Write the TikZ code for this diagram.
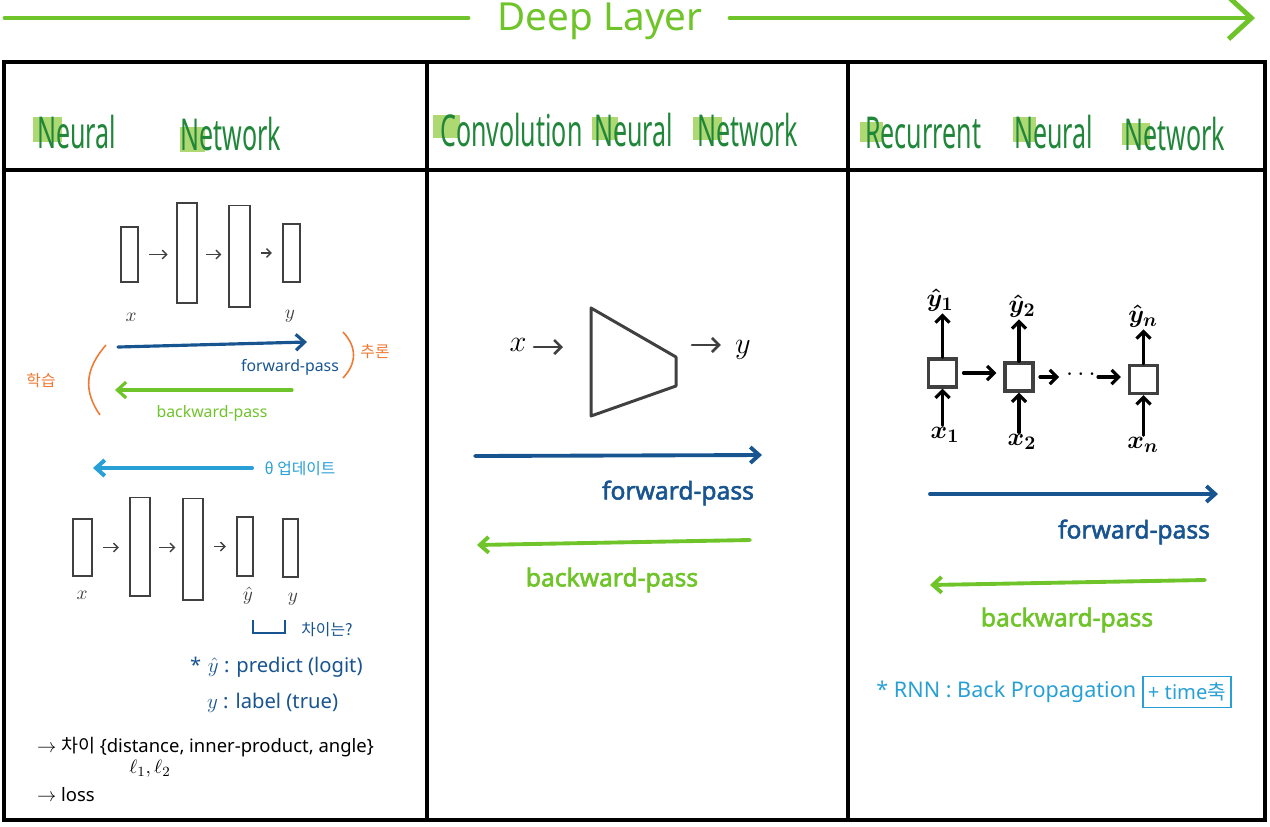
\documentclass[tikz,border=0pt]{standalone}
\usepackage{amsmath, amssymb}
\usepackage{fontspec}
\setmainfont{Noto Sans}
\newfontfamily\kr{Noto Sans CJK KR}
\newfontfamily\heavy{Noto Sans}[AutoFakeBold=2.2]
\usepackage{tikz}
\usetikzlibrary{arrows.meta, positioning, calc, shapes}

\definecolor{lgreen}{RGB}{110,196,40}
\definecolor{dgreen}{RGB}{32,134,58}
\definecolor{hlgreen}{RGB}{174,216,114}
\definecolor{dblue}{RGB}{24,84,144}
\definecolor{lblue}{RGB}{40,160,214}
\definecolor{orng}{RGB}{240,122,52}
\definecolor{ink}{RGB}{64,64,64}

\begin{document}
\begin{tikzpicture}[x=0.02cm, y=-0.02cm, >={Straight Barb[length=5pt,width=9pt]},
    frame/.style={line width=2.3pt, black},
    head/.style={dgreen, anchor=base west, inner sep=0, xscale=0.57, font=\fontsize{25}{30}\selectfont},
    layer/.style 2 args={draw=ink, line width=0.8pt, inner sep=0,
        minimum width=#1*0.567pt, minimum height=#2*0.567pt},
    step arrow/.style={->, ink, line width=0.8pt, >={Straight Barb[length=2.5pt,width=5pt]}},
    small/.style={font=\fontsize{9}{11}\selectfont, inner sep=1pt},
    note/.style={font=\fontsize{11.5}{14}\selectfont, inner sep=1pt},
    lbl/.style={font=\fontsize{11}{13}\selectfont, inner sep=1pt, ink},
    big/.style={font=\heavy\bfseries\fontsize{14}{17}\selectfont, inner sep=1pt},
    fwd/.style={->, dblue, line width=2.2pt, line cap=round},
    bwd/.style={->, lgreen, line width=2.2pt, line cap=round},
    cell/.style={draw=ink, line width=2pt, minimum size=28*0.567pt, inner sep=0},
    flow/.style={->, black, line width=1.8pt, line cap=round, >={Straight Barb[length=4pt,width=8pt]}},
    rnnlabel/.style={font=\fontsize{15}{18}\selectfont\boldmath, inner sep=1pt}]

    \useasboundingbox (0,0) rectangle (1270,826);

    % Title arrow
    \coordinate (t0) at (5,18);
    \coordinate (t1) at (468,18);
    \coordinate (t2) at (730,18);
    \coordinate (t3) at (1255,18);
    \draw[lgreen, line width=2.8pt, line cap=round] (t0) -- (t1);
    \node[lgreen, anchor=base, inner sep=0, font=\fontsize{22}{26}\selectfont] (title) at (600,30) {Deep Layer};
    \draw[lgreen, line width=2.8pt, line cap=round, -{Straight Barb[length=13pt,width=24pt]}] (t2) -- (t3);

    % Table
    \draw[frame] (4,62) rectangle (1265,820);
    \draw[frame] (4,170) -- (1265,170);
    \draw[frame] (427,62) -- (427,820);
    \draw[frame] (848,62) -- (848,820);

    % Headings
    \fill[hlgreen] (33,117) rectangle (62,142);
    \fill[hlgreen] (180,127) rectangle (205,152);
    \node[head] (nnA) at (37,148) {Neural};
    \node[head] (nnB) at (180,150) {Network};

    \fill[hlgreen] (433,115) rectangle (460,138);
    \fill[hlgreen] (592,117) rectangle (618,140);
    \fill[hlgreen] (693,117) rectangle (722,140);
    \node[head] (cnnA) at (440,146) {Convolution};
    \node[head] (cnnB) at (594,146) {Neural};
    \node[head] (cnnC) at (697,146) {Network};

    \fill[hlgreen] (860,122) rectangle (883,142);
    \fill[hlgreen] (1013,117) rectangle (1036,142);
    \fill[hlgreen] (1122,123) rectangle (1150,145);
    \node[head] (rnnA) at (865,148) {Recurrent};
    \node[head] (rnnB) at (1014,148) {Neural};
    \node[head] (rnnC) at (1124,150) {Network};

    % Neural network: forward
    \node[layer={17}{55}] (fx) at (129.5,254.5) {};
    \node[layer={20}{100}] (fh1) at (187,253) {};
    \node[layer={21}{102}] (fh2) at (239.5,256) {};
    \node[layer={17}{58}] (fy) at (291.5,253) {};
    \draw[step arrow, shorten <=6pt, shorten >=5pt] (fx.east) -- (fx.east -| fh1.west);
    \draw[step arrow, shorten <=5pt, shorten >=4pt] (fh1.east |- fx.east) -- (fx.east -| fh2.west);
    \draw[step arrow, shorten <=6pt, shorten >=6pt] (fh2.east |- fy.east) -- (fy.west);
    \node[lbl] (fxl) at (131,317) {$x$};
    \node[lbl] (fyl) at (290,316) {$y$};

    \coordinate (fa0) at (118,347);
    \coordinate (fa1) at (307,342);
    \draw[fwd, line width=1.8pt] (fa0) -- (fa1);
    \node[small, dblue] (fpass) at (290,367) {forward-pass};
    \coordinate (ba0) at (292,390);
    \coordinate (ba1) at (115,390);
    \draw[bwd, line width=1.8pt] (ba0) -- (ba1);
    \node[small, lgreen] (bpass) at (212,413) {backward-pass};

    \draw[orng, line width=0.9pt] (343,332) .. controls (357,347) and (357,363) .. (343,378);
    \node[orng, inner sep=0, font=\kr\fontsize{9}{11}\selectfont] (infer) at (375,352) {추론};
    \draw[orng, line width=0.9pt] (106,345) .. controls (84,370) and (84,392) .. (100,415);
    \node[orng, inner sep=0, font=\kr\fontsize{9}{11}\selectfont] (train) at (41,381) {학습};

    % Neural network: update
    \coordinate (ua0) at (252,468);
    \coordinate (ua1) at (93,468);
    \draw[->, lblue, line width=2.3pt, line cap=round] (ua0) -- (ua1);
    \node[lblue, inner sep=0, font=\kr\fontsize{9}{11}\selectfont] (upd) at (300,469) {θ 업데이트};

    \node[layer={19}{57}] (bx) at (82.5,547.5) {};
    \node[layer={20}{99}] (bh1) at (140,546.5) {};
    \node[layer={20}{102}] (bh2) at (193,549) {};
    \node[layer={16}{59}] (byhat) at (245,546.5) {};
    \node[layer={15}{58}] (by) at (290.5,548) {};
    \draw[step arrow, shorten <=6pt, shorten >=6pt] (bx.east) -- (bx.east -| bh1.west);
    \draw[step arrow, shorten <=5pt, shorten >=4pt] (bh1.east |- bx.east) -- (bx.east -| bh2.west);
    \draw[step arrow, shorten <=6pt, shorten >=6pt] (bh2.east |- byhat.east) -- (byhat.west);
    \node[lbl] (bxl) at (82,595) {$x$};
    \node[lbl] (byhl) at (248,596) {$\hat{y}$};
    \node[lbl] (byl) at (293,599) {$y$};

    \draw[dblue, line width=0.8pt] (253,620) -- (253,633) -- (285,633) -- (285,620);
    \node[dblue, inner sep=0, font=\kr\fontsize{9}{11}\selectfont] (diff) at (327,630) {차이는?};
    \node[note, dblue, anchor=west] (pred) at (188,667) {*\,\,$\hat{y}$ : predict (logit)};
    \node[note, dblue, anchor=west] (lab) at (205,703) {$y$ : label (true)};
    \node[anchor=west, inner sep=1pt, font=\fontsize{10.5}{13}\selectfont] (dist) at (35,747) {$\rightarrow$ {\kr 차이} \{distance, inner-product, angle\}};
    \node[inner sep=0, font=\fontsize{11}{13}\selectfont] (norms) at (150,769) {$\ell_1, \ell_2$};
    \node[anchor=west, inner sep=1pt, font=\fontsize{10.5}{13}\selectfont] (loss) at (35,795) {$\rightarrow$ loss};

    % CNN
    \node[inner sep=0, font=\fontsize{18}{20}\selectfont] (cx) at (518,345) {$x$};
    \coordinate (cx1) at (563,347);
    \draw[flow, ink, line width=1.5pt] (cx) ++(16,2) -- (cx1);
    \draw[ink, line width=1.7pt, line join=round] (591,308) -- (676,357) -- (676,386) -- (591,416) -- cycle;
    \coordinate (cy0) at (692,345);
    \node[inner sep=0, font=\fontsize{18}{20}\selectfont] (cy) at (743,350) {$y$};
    \draw[flow, ink, line width=1.5pt] (cy0) -- ($(cy.west)+(-14,-5)$);

    \coordinate (cf0) at (475,456);
    \coordinate (cf1) at (762,455);
    \draw[fwd] (cf0) -- (cf1);
    \node[big, dblue] (cfpass) at (678,493) {forward-pass};
    \coordinate (cb0) at (750,540);
    \coordinate (cb1) at (477,545);
    \draw[bwd] (cb0) -- (cb1);
    \node[big, lgreen] (cbpass) at (612,580) {backward-pass};

    % RNN
    \node[cell] (c1) at (942.5,373) {};
    \node[cell] (c2) at (1019,377) {};
    \node[cell] (cn) at (1143.5,379.5) {};
    \coordinate (c2r) at (1059,377);
    \coordinate (cnl) at (1098,377);
    \draw[flow, shorten <=3pt, shorten >=4pt] (c1.east) -- (c1.east -| c2.west);
    \draw[flow, shorten <=3pt] (c2.east) -- (c2r);
    \node[inner sep=0, font=\fontsize{14}{16}\selectfont\bfseries] (dots) at (1083,375) {$\cdots$};
    \draw[flow, shorten >=4pt] (cnl) -- (cnl -| cn.west);

    \node[rnnlabel] (o1) at (940,300) {$\hat{y}_1$};
    \node[rnnlabel] (o2) at (1022,306) {$\hat{y}_2$};
    \node[rnnlabel] (on) at (1143,316) {$\hat{y}_n$};
    \node[rnnlabel] (i1) at (945,435) {$x_1$};
    \node[rnnlabel] (i2) at (1022,442) {$x_2$};
    \node[rnnlabel] (in) at (1143,445) {$x_n$};
    \draw[flow] (c1.north) -- (c1.north |- o1.south);
    \draw[flow] (c2.north) -- (c2.north |- o2.south);
    \draw[flow] (cn.north) -- (cn.north |- on.south);
    \draw[flow] (c1.south |- i1.north) -- (c1.south);
    \draw[flow] (c2.south |- i2.north) -- (c2.south);
    \draw[flow] (cn.south |- in.north) -- (cn.south);

    \coordinate (rf0) at (930,494);
    \coordinate (rf1) at (1218,494);
    \draw[fwd] (rf0) -- (rf1);
    \node[big, dblue] (rfpass) at (1134,532) {forward-pass};
    \coordinate (rb0) at (1205,580);
    \coordinate (rb1) at (930,585);
    \draw[bwd] (rb0) -- (rb1);
    \node[big, lgreen] (rbpass) at (1067,620) {backward-pass};

    \node[lblue, anchor=west, inner sep=0, font=\fontsize{12.3}{15}\selectfont] (bptt) at (876,692) {* RNN : Back Propagation};
    \node[lblue, draw=lblue, line width=0.9pt, inner sep=0, minimum width=88*0.567pt, minimum height=31*0.567pt,
        font=\fontsize{11.5}{14}\selectfont] (taxis) at (1187,692) {+ time{\kr 축}};
\end{tikzpicture}
\end{document}
